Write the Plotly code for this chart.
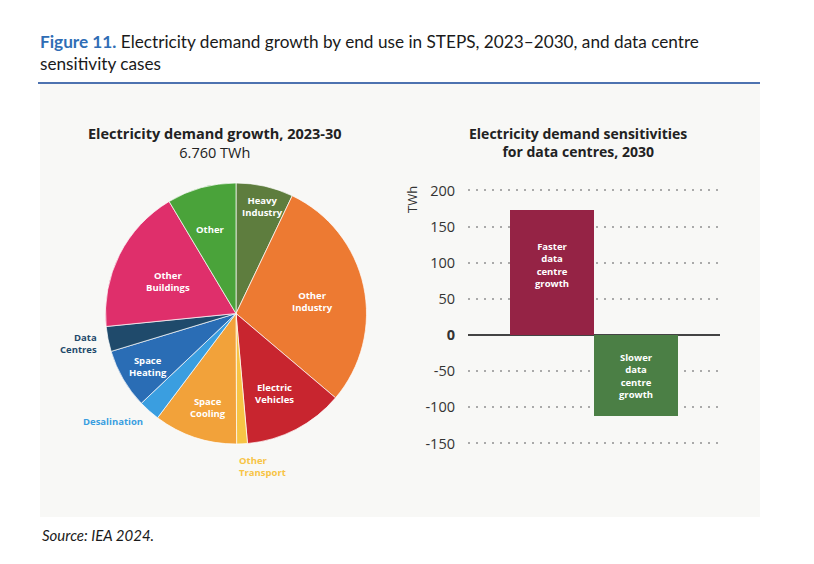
import plotly.graph_objects as go

W, H = 814, 564

# pie data (TWh, total ~6 760)
end_uses = ["Heavy Industry", "Other Industry", "Electric Vehicles", "Other Transport",
            "Space Cooling", "Desalination", "Space Heating", "Data Centres",
            "Other Buildings", "Other"]
growth_twh = [480, 1970, 840, 90, 700, 180, 500, 210, 1220, 580]
pie_colors = ["#5e7d3e", "#ed7a32", "#c8252f", "#f7c445", "#f2a23a",
              "#3a9ee0", "#2a6db5", "#1f4a6b", "#df2f6b", "#4aa33a"]

# bar data
cases = ["Faster data centre growth", "Slower data centre growth"]
case_labels = ["Faster<br>data<br>centre<br>growth", "Slower<br>data<br>centre<br>growth"]
sensitivity_twh = [174, -112]
bar_colors = ["#952345", "#4b7f45"]
y_ticks = [-150, -100, -50, 0, 50, 100, 150, 200]
y_ticktext = ["-150", "-100", "-50", "<b>0</b>", "50", "100", "150", "200"]

FONT = "Lato"
CHART_FONT = "Open Sans"


def px(x):
    return x / W


def py(y):
    return 1 - y / H


fig = go.Figure()

fig.add_trace(go.Pie(
    labels=end_uses,
    values=growth_twh,
    marker=dict(colors=pie_colors, line=dict(color="rgba(255,255,255,0.7)", width=1)),
    sort=False,
    direction="clockwise",
    rotation=0,
    textinfo="none",
    hoverinfo="label+value",
    showlegend=False,
    domain=dict(x=[px(105), px(367)], y=[py(444), py(183)]),
))

fig.add_trace(go.Bar(
    x=[0, 1],
    y=sensitivity_twh,
    width=1,
    marker=dict(color=bar_colors, line=dict(width=0)),
    text=case_labels,
    textposition="none",
    hovertext=cases,
    hoverinfo="text+y",
    showlegend=False,
    xaxis="x", yaxis="y",
))

annotations = []

# heading
annotations.append(dict(
    x=px(38), y=py(29), xref="paper", yref="paper", xanchor="left", yanchor="top",
    align="left", showarrow=False,
    text="<b><span style='color:#2f6db5'>Figure 11.</span></b> Electricity demand growth by end use in STEPS, 2023\u20132030, and data centre<br>sensitivity cases",
    font=dict(family=FONT, size=17.2, color="#1a1a1a"),
))
annotations.append(dict(
    x=px(40), y=py(535), xref="paper", yref="paper", xanchor="left", yanchor="middle",
    showarrow=False, text="<i>Source: IEA 2024.</i>",
    font=dict(family=FONT, size=15, color="#1a1a1a"),
))

# panel titles
annotations.append(dict(
    x=px(215), y=py(143), xref="paper", yref="paper", xanchor="center", yanchor="middle",
    showarrow=False, text="<b>Electricity demand growth, 2023-30</b><br>6.760 TWh",
    font=dict(family=CHART_FONT, size=14.5, color="#222222"),
))
annotations.append(dict(
    x=px(578), y=py(143), xref="paper", yref="paper", xanchor="center", yanchor="middle",
    showarrow=False, text="<b>Electricity demand sensitivities<br>for data centres, 2030</b>",
    font=dict(family=CHART_FONT, size=14, color="#222222"),
))

# slice labels (inside: white, outside: slice colour)
inside_pos = {
    "Heavy Industry": (262, 206), "Other Industry": (312, 301),
    "Electric Vehicles": (274, 393), "Space Cooling": (208, 407),
    "Space Heating": (148, 366), "Other Buildings": (168, 281), "Other": (210, 229),
}
outside_pos = {
    "Data Centres": (99, 343, "right"), "Desalination": (113, 421, "center"),
    "Other Transport": (262, 466, "center"),
}
for name, col in zip(end_uses, pie_colors):
    txt = name.replace(" ", "<br>")
    if name in inside_pos:
        x, y = inside_pos[name]
        annotations.append(dict(
            x=px(x), y=py(y), xref="paper", yref="paper", showarrow=False,
            xanchor="center", yanchor="middle", text="<b>" + txt + "</b>",
            font=dict(family=CHART_FONT, size=9.5, color="white"),
        ))
    else:
        x, y, anc = outside_pos[name]
        if name == "Desalination":
            txt = name
        annotations.append(dict(
            x=px(x), y=py(y), xref="paper", yref="paper", showarrow=False,
            xanchor=anc, yanchor="middle", align=anc if anc != "center" else "left",
            text="<b>" + txt + "</b>",
            font=dict(family=CHART_FONT, size=9.5, color=col),
        ))

# bar labels
for i, lab in enumerate(case_labels):
    annotations.append(dict(
        x=i, y=sensitivity_twh[i] / 2 + (10 if i == 0 else 0), xref="x", yref="y",
        showarrow=False, text="<b>" + lab + "</b>",
        font=dict(family=CHART_FONT, size=9.5, color="white"),
    ))

annotations.append(dict(
    x=px(412), y=py(200), xref="paper", yref="paper", showarrow=False, textangle=-90,
    text="TWh", font=dict(family=CHART_FONT, size=13, color="#333333"),
))

fig.update_layout(
    width=W, height=H,
    margin=dict(l=0, r=0, t=0, b=0),
    paper_bgcolor="white",
    plot_bgcolor="rgba(0,0,0,0)",
    font=dict(family=CHART_FONT, color="#333333"),
    bargap=0,
    xaxis=dict(domain=[px(468), px(720)], range=[-1, 2], visible=False, fixedrange=True),
    yaxis=dict(
        domain=[py(454.3), py(179.6)], range=[-165, 215],
        tickvals=y_ticks, ticktext=y_ticktext,
        tickfont=dict(family=CHART_FONT, size=14.5, color="#333333"),
        ticklabelstandoff=12,
        showgrid=True, gridcolor="#aaaaaa", gridwidth=1.5, griddash="1.5px,6.5px",
        zeroline=True, zerolinecolor="#444444", zerolinewidth=1.5,
        showline=False, ticks="", fixedrange=True,
    ),
    shapes=[
        dict(type="rect", xref="paper", yref="paper", x0=px(40), x1=px(760),
             y0=py(517), y1=py(84), fillcolor="#f8f8f6", line=dict(width=0), layer="below"),
        dict(type="line", xref="paper", yref="paper", x0=px(38), x1=px(760),
             y0=py(83), y1=py(83), line=dict(color="#4d72b0", width=2)),
    ],
    annotations=annotations,
)

fig.write_html("out.html", config={"displayModeBar": False},
               post_script="document.body.style.margin='0';")
